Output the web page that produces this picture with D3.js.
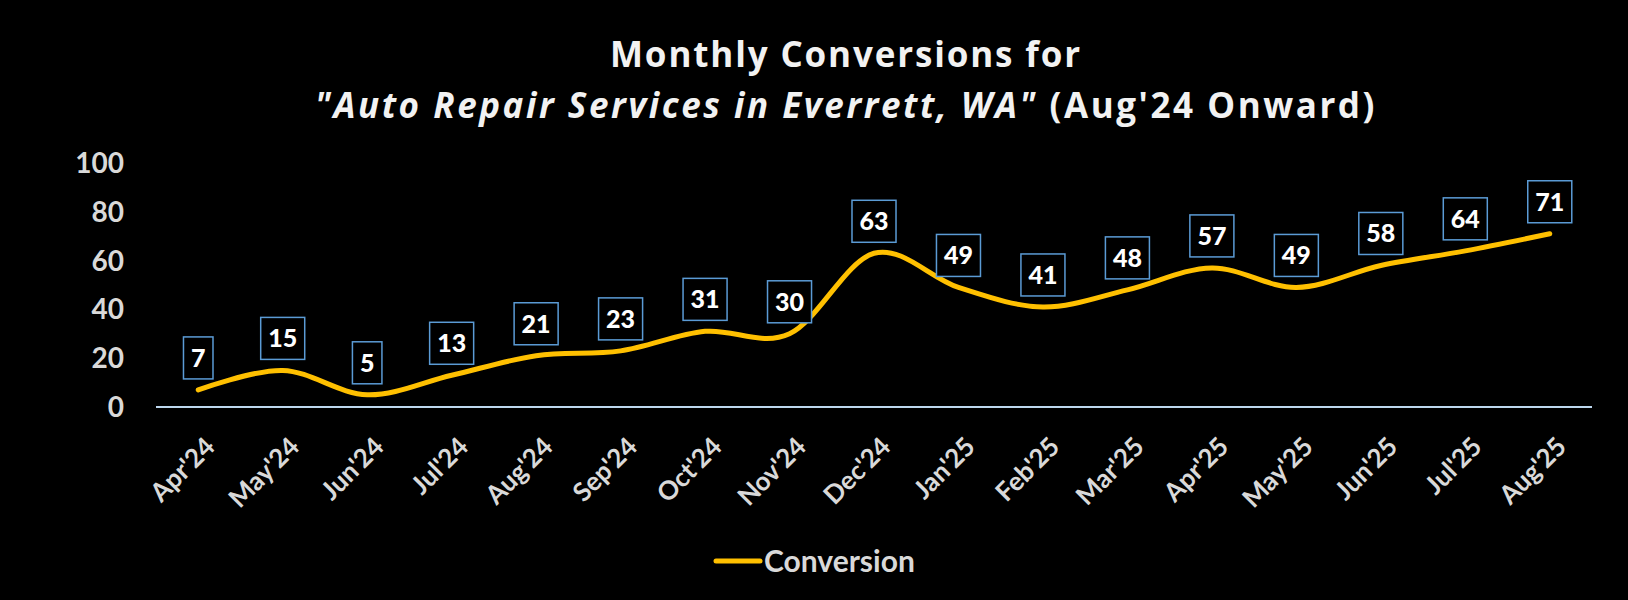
<!DOCTYPE html>
<html>
<head>
<meta charset="utf-8">
<script src="https://cdn.jsdelivr.net/npm/d3@7"></script>
<style>
  html, body { margin: 0; padding: 0; background: #000; }
  svg { display: block; }
</style>
</head>
<body>
<div id="chart"></div>
<script>
const months = ["Apr'24", "May'24", "Jun'24", "Jul'24", "Aug'24", "Sep'24", "Oct'24", "Nov'24", "Dec'24",
  "Jan'25", "Feb'25", "Mar'25", "Apr'25", "May'25", "Jun'25", "Jul'25", "Aug'25"];
const conversions = [7, 15, 5, 13, 21, 23, 31, 30, 63, 49, 41, 48, 57, 49, 58, 64, 71];
const yTicks = [0, 20, 40, 60, 80, 100];
const seriesName = "Conversion";

const width = 1628;
const height = 600;

const svg = d3.select("#chart")
  .append("svg")
  .attr("width", width)
  .attr("height", height)
  .style("background", "#000");

const x = d3.scalePoint()
  .domain(months)
  .range([156, 1592])
  .padding(0.5);

const y = d3.scaleLinear()
  .domain([0, 100])
  .range([407, 163]);

// title, two lines; letter spacing stretched to the widths of the original
function titleLine(yPos, targetWidth) {
  const t = svg.append("text")
    .attr("x", 846)
    .attr("y", yPos)
    .attr("text-anchor", "middle")
    .style("font-family", "'Open Sans'")
    .style("font-weight", 700)
    .style("font-size", "35px")
    .style("fill", "#f2f2f2");
  return t;
}
function fitSpacing(t, targetWidth) {
  const n = t.text().length;
  const w = t.node().getComputedTextLength();
  t.style("letter-spacing", `${Math.max(0, (targetWidth - w) / n)}px`);
}

const title1 = titleLine(67);
title1.text("Monthly Conversions for");
fitSpacing(title1, 472);

const title2 = titleLine(118);
title2.append("tspan")
  .style("font-style", "italic")
  .text("\"Auto Repair Services in Everrett, WA\"");
title2.append("tspan")
  .text(" (Aug'24 Onward)");
fitSpacing(title2, 1062);

// y axis labels (no line)
svg.append("g")
  .selectAll("text")
  .data(yTicks)
  .enter()
  .append("text")
  .attr("x", 124)
  .attr("y", d => y(d))
  .attr("dy", "0.36em")
  .attr("text-anchor", "end")
  .style("font-family", "Lato")
  .style("font-weight", 700)
  .style("font-size", "28px")
  .style("fill", "#d9d9d9")
  .text(d => d);

// x axis line
svg.append("line")
  .attr("x1", 156)
  .attr("x2", 1592)
  .attr("y1", y(0))
  .attr("y2", y(0))
  .attr("stroke", "#bdd7ee")
  .attr("stroke-width", 2);

// x labels
svg.append("g")
  .selectAll("text")
  .data(months)
  .enter()
  .append("text")
  .attr("transform", d => `translate(${x(d) + 5},${y(0) + 28}) rotate(-45)`)
  .attr("text-anchor", "end")
  .attr("dy", "0.72em")
  .style("font-family", "Lato")
  .style("font-weight", 700)
  .style("font-size", "26px")
  .style("fill", "#d9d9d9")
  .text(d => d);

// smoothed line
const line = d3.line()
  .x((d, i) => x(months[i]))
  .y(d => y(d))
  .curve(d3.curveCardinal.tension(0));

svg.append("path")
  .datum(conversions)
  .attr("d", line)
  .attr("fill", "none")
  .attr("stroke", "#ffc000")
  .attr("stroke-width", 5)
  .attr("stroke-linecap", "round");

// data labels with boxes
const labels = svg.append("g")
  .selectAll("g")
  .data(conversions)
  .enter()
  .append("g")
  .attr("transform", (d, i) => `translate(${x(months[i])},${y(d) - 32})`);

labels.append("text")
  .attr("text-anchor", "middle")
  .attr("dy", "0.36em")
  .style("font-family", "Lato")
  .style("font-weight", 900)
  .style("font-size", "25px")
  .style("fill", "#fff")
  .text(d => d);

labels.each(function () {
  const g = d3.select(this);
  const w = g.select("text").node().getComputedTextLength() + 15;
  g.insert("rect", "text")
    .attr("x", -w / 2)
    .attr("y", -21)
    .attr("width", w)
    .attr("height", 42)
    .attr("fill", "#000")
    .attr("stroke", "#5b9bd5")
    .attr("stroke-width", 1.5);
});

// legend
const legend = svg.append("g");
legend.append("line")
  .attr("x1", 716)
  .attr("x2", 760)
  .attr("y1", 561)
  .attr("y2", 561)
  .attr("stroke", "#ffc000")
  .attr("stroke-width", 5)
  .attr("stroke-linecap", "round");
legend.append("text")
  .attr("x", 764)
  .attr("y", 561)
  .attr("dy", "0.36em")
  .style("font-family", "Lato")
  .style("font-weight", 700)
  .style("font-size", "30px")
  .style("fill", "#d9d9d9")
  .text(seriesName);
</script>
</body>
</html>
